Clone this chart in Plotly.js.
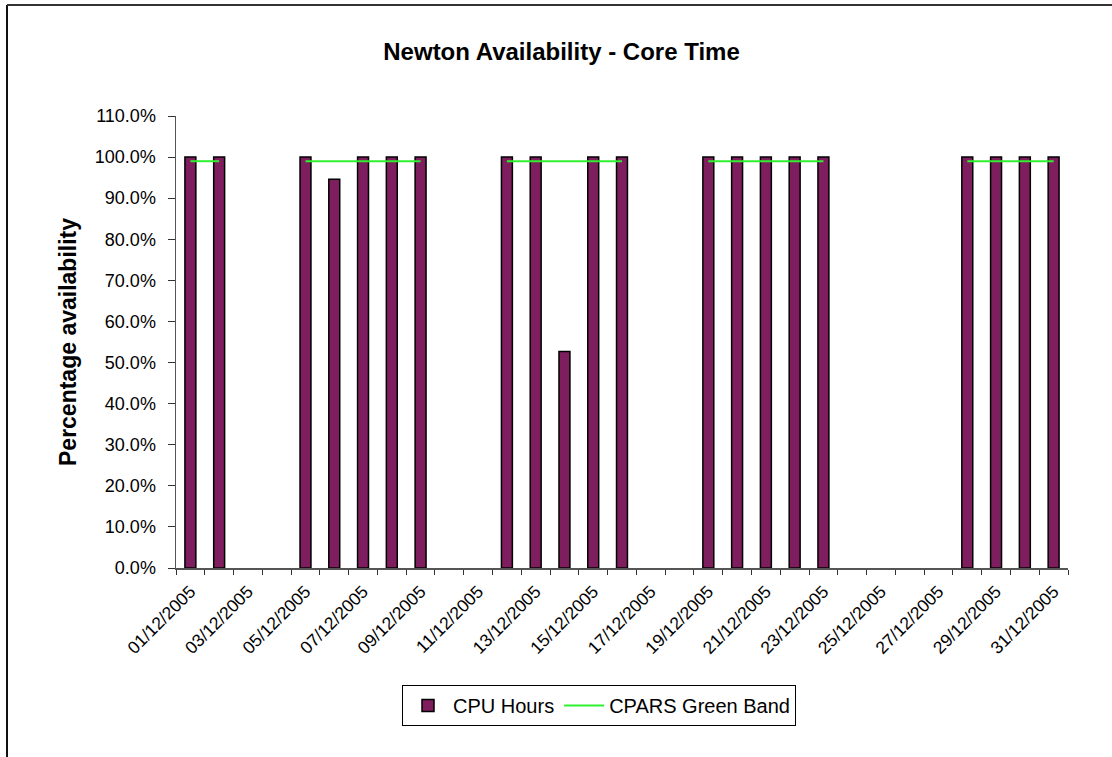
<!DOCTYPE html>
<html>
<head>
<meta charset="utf-8">
<script src="https://cdn.plot.ly/plotly-3.0.1.min.js"></script>
<style>
  html, body { margin: 0; padding: 0; background: #ffffff; }
  #chart { width: 1112px; height: 757px; }
</style>
</head>
<body>
<div id="chart"></div>
<script>
// ---- Data ----
const dates = [
  '01/12/2005','02/12/2005','03/12/2005','04/12/2005','05/12/2005','06/12/2005',
  '07/12/2005','08/12/2005','09/12/2005','10/12/2005','11/12/2005','12/12/2005',
  '13/12/2005','14/12/2005','15/12/2005','16/12/2005','17/12/2005','18/12/2005',
  '19/12/2005','20/12/2005','21/12/2005','22/12/2005','23/12/2005','24/12/2005',
  '25/12/2005','26/12/2005','27/12/2005','28/12/2005','29/12/2005','30/12/2005',
  '31/12/2005'
];
const cpuHours = [
  1.0, 1.0, null, null, 1.0, 0.946, 1.0, 1.0, 1.0, null, null,
  1.0, 1.0, 0.527, 1.0, 1.0, null, null,
  1.0, 1.0, 1.0, 1.0, 1.0, null, null, null, null,
  1.0, 1.0, 1.0, 1.0
];
const greenBand = [
  0.99, 0.99, null, null, 0.99, 0.99, 0.99, 0.99, 0.99, null, null,
  0.99, 0.99, 0.99, 0.99, 0.99, null, null,
  0.99, 0.99, 0.99, 0.99, 0.99, null, null, null, null,
  0.99, 0.99, 0.99, 0.99
];
const yTickVals = [0, 0.1, 0.2, 0.3, 0.4, 0.5, 0.6, 0.7, 0.8, 0.9, 1.0, 1.1];

// x tick labels: every second date shown (as in the reference)
const xTickText = dates.map((d, i) => (i % 2 === 0 ? d : ''));

const FONT = '"Liberation Sans", Arial, Helvetica, sans-serif';

const traces = [
  {
    type: 'bar',
    name: 'CPU Hours',
    x: dates,
    y: cpuHours,
    marker: { color: '#7e1e5e', line: { color: '#000000', width: 1.5 } },
    hoverinfo: 'x+y'
  },
  {
    type: 'scatter',
    mode: 'lines',
    name: 'CPARS Green Band',
    x: dates,
    y: greenBand,
    connectgaps: false,
    line: { color: '#2ef02e', width: 2 },
    hoverinfo: 'x+y'
  }
];

// geometry helpers for the outer chart-area frame (paper coords)
const W = 1112, H = 757;
const M = { l: 176, r: 44, t: 116, b: 189 };
const pw = W - M.l - M.r, ph = H - M.t - M.b;
const px = (x) => (x - M.l) / pw;
const py = (y) => (H - M.b - y) / ph;

const layout = {
  width: W,
  height: H,
  margin: M,
  paper_bgcolor: '#ffffff',
  plot_bgcolor: '#ffffff',
  font: { family: FONT, color: '#000000', size: 17 },
  bargap: 0.62,
  showlegend: true,
  title: {
    text: '<b>Newton Availability - Core Time</b>',
    font: { family: FONT, size: 24, color: '#000000' },
    xref: 'container', yref: 'container',
    x: 0.505, xanchor: 'center',
    y: 1 - 52 / H, yanchor: 'middle'
  },
  xaxis: {
    type: 'category',
    categoryorder: 'array',
    categoryarray: dates,
    tickmode: 'array',
    tickvals: dates,
    ticktext: xTickText,
    tickson: 'boundaries',
    ticks: 'outside',
    ticklen: 5,
    tickcolor: '#333333',
    tickwidth: 1,
    tickangle: -45,
    ticklabelstandoff: 5,
    tickfont: { family: FONT, size: 17.5, color: '#000000' },
    showline: true,
    linecolor: '#555555',
    linewidth: 1.5,
    showgrid: false,
    zeroline: false,
    fixedrange: true
  },
  yaxis: {
    range: [0, 1.1],
    tickmode: 'array',
    tickvals: yTickVals,
    tickformat: '.1%',
    ticks: 'outside',
    ticklen: 7,
    tickcolor: '#333333',
    tickwidth: 1,
    ticklabelstandoff: 8,
    tickfont: { family: FONT, size: 18, color: '#000000' },
    showline: true,
    linecolor: '#555555',
    linewidth: 1.5,
    showgrid: false,
    zeroline: false,
    fixedrange: true,
    title: {
      text: '<b>Percentage availability</b>',
      font: { family: FONT, size: 23, color: '#000000' },
      standoff: 12
    }
  },
  legend: {
    orientation: 'h',
    xref: 'container', yref: 'container',
    x: 402 / W, xanchor: 'left',
    y: 1 - 685 / H, yanchor: 'top',
    bordercolor: '#000000',
    borderwidth: 1,
    bgcolor: '#ffffff',
    font: { family: FONT, size: 20, color: '#000000' },
    itemwidth: 40
  },
  shapes: [
    {
      type: 'line', xref: 'paper', yref: 'paper',
      x0: px(7), x1: px(7), y0: py(770), y1: py(5),
      line: { color: '#111111', width: 2 }
    },
    {
      type: 'line', xref: 'paper', yref: 'paper',
      x0: px(7), x1: px(1125), y0: py(5), y1: py(5),
      line: { color: '#333333', width: 2 }
    }
  ]
};

Plotly.newPlot('chart', traces, layout, { displayModeBar: false, staticPlot: true });
</script>
</body>
</html>
